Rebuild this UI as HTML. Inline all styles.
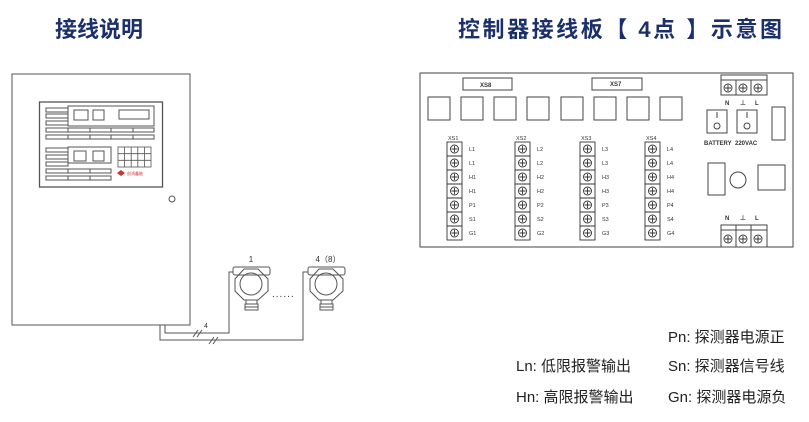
<!DOCTYPE html>
<html><head><meta charset="utf-8"><style>
html,body{margin:0;padding:0;background:#fff;}
svg{display:block;font-family:"Liberation Sans","Noto Sans CJK SC",sans-serif;}
</style></head><body>
<svg width="809" height="422" viewBox="0 0 809 422" xmlns="http://www.w3.org/2000/svg">
<defs>
<g id="scr" fill="none" stroke="#333" stroke-width="0.9"><circle cx="0" cy="0" r="4"/><path d="M-3 0h6M0 -3v6"/></g>
</defs>
<g fill="#1b2f6b" font-weight="bold" font-size="22">
<text x="55" y="37">接线说明</text>
<text x="458" y="37" textLength="324">控制器接线板【 4点 】示意图</text>
</g>
<!-- cabinet -->
<g fill="none" stroke="#555" stroke-width="1">
<rect x="12" y="74" width="178" height="251"/>
<rect x="39.5" y="102" width="123" height="85" stroke-width="1.3"/>
<rect x="68" y="106" width="86" height="20"/>
<rect x="74" y="110" width="14" height="10"/>
<rect x="93" y="110" width="11" height="10"/>
<rect x="119" y="110" width="30" height="9"/>
<rect x="46" y="108" width="22" height="4"/>
<rect x="46" y="114" width="22" height="4"/>
<rect x="46" y="121" width="22" height="4"/>
<rect x="46" y="128" width="108" height="4"/>
<rect x="46" y="135" width="108" height="4"/>
<path d="M68 128v4M68 135v4M90 128v4M90 135v4M111 128v4M111 135v4M133 128v4M133 135v4"/>
<rect x="68" y="147" width="43" height="16"/>
<rect x="74" y="151" width="12" height="10"/>
<rect x="93" y="151" width="11" height="10"/>
<rect x="46" y="148" width="22" height="4"/>
<rect x="46" y="155" width="22" height="4"/>
<rect x="46" y="162" width="22" height="4"/>
<rect x="46" y="169" width="65" height="4"/>
<rect x="46" y="176" width="65" height="4"/>
<path d="M68 169v4M68 176v4M90 169v4M90 176v4"/>
<circle cx="172" cy="199" r="3"/>
</g>
<g fill="none" stroke="#555" stroke-width="0.8">
<rect x="118" y="147" width="33" height="20"/>
<path d="M124.6 147v20M131.2 147v20M137.8 147v20M144.4 147v20M118 153.7h33M118 160.3h33"/>
</g>
<g fill="#c33"><path d="M121 170l4 3-4 3-4-3z"/></g>
<text x="127" y="175" font-size="4" fill="#c33">创鸿鑫能</text>
<!-- detectors -->
<g fill="none" stroke="#555" stroke-width="1">
<g id="det">
<rect x="233" y="267" width="37" height="8" rx="2"/>
<polygon points="244,269 258,269 268,279 268,291 258,300 244,300 235,291 235,279"/>
<circle cx="251" cy="284" r="11"/>
<rect x="246" y="300" width="11" height="4"/>
<rect x="245" y="304" width="13" height="6"/>
<path d="M245 307h13"/>
</g>
<use href="#det" transform="translate(75,0)"/>
</g>
<text x="251" y="262" font-size="8" text-anchor="middle" fill="#333">1</text>
<text x="328" y="262" font-size="8" text-anchor="middle" fill="#333">4（8）</text>
<text x="272" y="297" font-size="10" fill="#333" letter-spacing="1">......</text>
<!-- wires -->
<g fill="none" stroke="#555" stroke-width="1">
<path d="M160 325V340H303V272H308"/>
<path d="M165 325V333H229V272H233"/>
<path d="M193 337l5-7M197 337l5-7M209 344l5-7M213 344l5-7"/>
</g>
<text x="204" y="328" font-size="7" fill="#333">4</text>
<!-- board -->
<g fill="none" stroke="#444" stroke-width="1">
<rect x="420" y="73" width="373" height="174"/>
<rect x="463" y="78" width="49" height="12"/>
<rect x="592" y="78" width="50" height="12"/>
<rect x="428" y="97" width="22" height="23"/>
<rect x="461" y="97" width="22" height="23"/>
<rect x="494" y="97" width="22" height="23"/>
<rect x="527" y="97" width="22" height="23"/>
<rect x="561" y="97" width="22" height="23"/>
<rect x="594" y="97" width="22" height="23"/>
<rect x="627" y="97" width="22" height="23"/>
<rect x="660" y="97" width="22" height="23"/>
<rect x="721" y="75" width="46" height="20"/>
<path d="M721 80h46M736 80v15M751 80v15"/>
<rect x="707" y="110" width="20" height="23"/>
<rect x="737" y="110" width="20" height="23"/>
<path d="M717 112v6M747 112v6"/>
<circle cx="717" cy="126" r="3"/><circle cx="747" cy="126" r="3"/>
<rect x="772" y="107" width="13" height="33"/>
<rect x="708" y="163" width="17" height="32"/>
<circle cx="738" cy="180" r="8"/>
<rect x="758" y="165" width="27" height="25"/>
<rect x="721" y="225" width="46" height="22"/>
<path d="M721 230h46M736 225v22M751 225v22"/>
</g>
<use href="#scr" x="728" y="88"/><use href="#scr" x="743" y="88"/><use href="#scr" x="758" y="88"/>
<use href="#scr" x="728" y="239"/><use href="#scr" x="743" y="239"/><use href="#scr" x="758" y="239"/>
<g font-size="6" fill="#333" font-weight="bold">
<text x="725" y="105">N</text><text x="740" y="105">⊥</text><text x="755" y="105">L</text>
<text x="725" y="220">N</text><text x="740" y="220">⊥</text><text x="755" y="220">L</text>
<text x="704" y="145">BATTERY</text><text x="735" y="145">220VAC</text>
<text x="480" y="87">XS8</text><text x="610" y="86">XS7</text>
</g>
<!-- terminal blocks -->
<g id="tb" fill="none" stroke="#333" stroke-width="0.9">
<rect x="447" y="142" width="15" height="98"/>
<path d="M447 156h15M447 170h15M447 184h15M447 198h15M447 212h15M447 226h15"/>
<use href="#scr" x="454.5" y="149"/><use href="#scr" x="454.5" y="163"/><use href="#scr" x="454.5" y="177"/><use href="#scr" x="454.5" y="191"/><use href="#scr" x="454.5" y="205"/><use href="#scr" x="454.5" y="219"/><use href="#scr" x="454.5" y="233"/>
</g>
<use href="#tb" x="68"/><use href="#tb" x="133"/><use href="#tb" x="198"/>
<g font-size="5.5" fill="#333">
<text x="448" y="140">XS1</text><text x="516" y="140">XS2</text><text x="581" y="140">XS3</text><text x="646" y="140">XS4</text>
<g><text x="469" y="151">L1</text><text x="469" y="165">L1</text><text x="469" y="179">H1</text><text x="469" y="193">H1</text><text x="469" y="207">P1</text><text x="469" y="221">S1</text><text x="469" y="235">G1</text></g>
<g><text x="537" y="151">L2</text><text x="537" y="165">L2</text><text x="537" y="179">H2</text><text x="537" y="193">H2</text><text x="537" y="207">P2</text><text x="537" y="221">S2</text><text x="537" y="235">G2</text></g>
<g><text x="602" y="151">L3</text><text x="602" y="165">L3</text><text x="602" y="179">H3</text><text x="602" y="193">H3</text><text x="602" y="207">P3</text><text x="602" y="221">S3</text><text x="602" y="235">G3</text></g>
<g><text x="667" y="151">L4</text><text x="667" y="165">L4</text><text x="667" y="179">H4</text><text x="667" y="193">H4</text><text x="667" y="207">P4</text><text x="667" y="221">S4</text><text x="667" y="235">G4</text></g>
</g>
<!-- legend -->
<g font-size="15" fill="#222">
<text x="668" y="342">Pn: 探测器电源正</text>
<text x="516" y="371">Ln: 低限报警输出</text>
<text x="668" y="371">Sn: 探测器信号线</text>
<text x="516" y="402">Hn: 高限报警输出</text>
<text x="668" y="402">Gn: 探测器电源负</text>
</g>
</svg>
</body></html>
